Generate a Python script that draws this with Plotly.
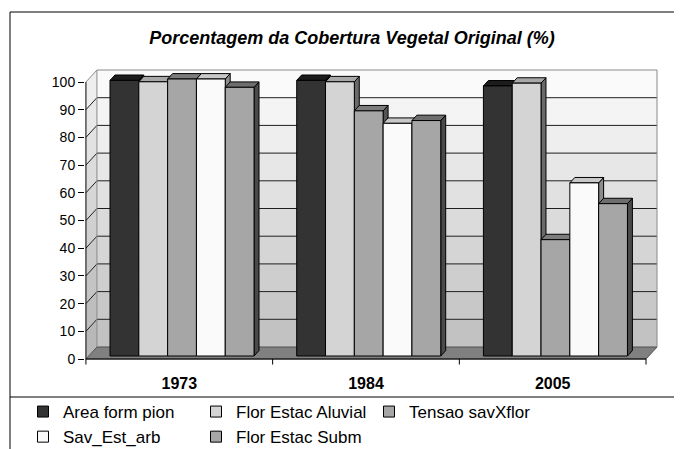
import plotly.graph_objects as go

# ---------------- data ----------------
years = ["1973", "1984", "2005"]
series_names = ["Area form pion", "Flor Estac Aluvial", "Tensao savXflor",
                "Sav_Est_arb", "Flor Estac Subm"]
area_form_pion = [99.5, 99.5, 97.5]
flor_estac_aluvial = [99, 99, 98.5]
tensao_savxflor = [100, 88.5, 42]
sav_est_arb = [100, 84, 62.5]
flor_estac_subm = [97, 85, 55]
y_ticks = [0, 10, 20, 30, 40, 50, 60, 70, 80, 90, 100]
title_text = "Porcentagem da Cobertura Vegetal Original (%)"

series_values = [area_form_pion, flor_estac_aluvial, tensao_savxflor,
                 sav_est_arb, flor_estac_subm]

# ---------------- styles ----------------
front_colors = ["#333333", "#d4d4d4", "#a6a6a6", "#fafafa", "#a6a6a6"]
top_colors = ["#1c1c1c", "#a8a8a8", "#7c7c7c", "#c8c8c8", "#6e6e6e"]
side_colors = ["#222222", "#6a6a6a", "#555555", "#8c8c8c", "#4a4a4a"]
FONT = "Arial, Liberation Sans, sans-serif"

# the page body has an 8px margin: lay out in window pixels, figure shifted
OFF = 8
WIN_W, WIN_H = 682, 449
W, H = WIN_W - OFF, WIN_H - OFF
PLOT_L, PLOT_R, PLOT_T, PLOT_B = 85, 662, 62, 366   # window pixels
ML, MR = PLOT_L - OFF, W - (PLOT_R - OFF)
MT, MB = PLOT_T - OFF, H - (PLOT_B - OFF)
PW, PH = W - ML - MR, H - MT - MB
PX_PER_CAT = 186.7
PX_PER_VAL = 2.77
x_min = -0.505
x_max = x_min + PW / PX_PER_CAT
y_min = -(PLOT_B - 359) / PX_PER_VAL
y_max = y_min + PH / PX_PER_VAL

dx = 11 / PX_PER_CAT      # depth offset (category units)
dy = 12 / PX_PER_VAL      # depth offset (value units)
f0, f1 = 0.25, 0.7        # bar front/back depth fractions
bw = 0.1543               # bar width (category units)
n = len(series_names)
left_edge = -0.5
right_edge = len(years) - 0.5

fig = go.Figure()
shapes = []


def lerp_gray(a, b, t):
    c = int(round(a + (b - a) * t))
    return f"rgb({c},{c},{c})"


# walls (gradient bands)
for k in range(len(y_ticks) - 1):
    v0, v1 = y_ticks[k], y_ticks[k + 1]
    t = k / (len(y_ticks) - 2)
    back_col = lerp_gray(194, 250, t)
    side_col = lerp_gray(184, 238, t)
    shapes.append(dict(type="rect", xref="x", yref="y", layer="below",
                       x0=left_edge + dx, x1=right_edge + dx,
                       y0=v0 + dy, y1=v1 + dy,
                       fillcolor=back_col, line=dict(width=0)))
    path = (f"M {left_edge},{v0} L {left_edge + dx},{v0 + dy} "
            f"L {left_edge + dx},{v1 + dy} L {left_edge},{v1} Z")
    shapes.append(dict(type="path", xref="x", yref="y", layer="below",
                       path=path, fillcolor=side_col, line=dict(width=0)))

# floor
floor_path = (f"M {left_edge},0 L {right_edge},0 L {right_edge + dx},{dy} "
              f"L {left_edge + dx},{dy} Z")
shapes.append(dict(type="path", xref="x", yref="y", layer="below",
                   path=floor_path, fillcolor="#808080",
                   line=dict(color="#505050", width=1)))

# gridlines
for v in y_ticks[1:]:
    col = "#8a8a8a" if v == y_ticks[-1] else "#1e1e1e"
    path = (f"M {left_edge},{v} L {left_edge + dx},{v + dy} "
            f"L {right_edge + dx},{v + dy}")
    shapes.append(dict(type="path", xref="x", yref="y", layer="below",
                       path=path, line=dict(color=col, width=1)))
# back wall edges
shapes.append(dict(type="line", xref="x", yref="y", layer="below",
                   x0=right_edge + dx, x1=right_edge + dx,
                   y0=dy, y1=y_ticks[-1] + dy,
                   line=dict(color="#8a8a8a", width=1)))
shapes.append(dict(type="line", xref="x", yref="y", layer="below",
                   x0=left_edge + dx, x1=left_edge + dx,
                   y0=dy, y1=y_ticks[-1] + dy,
                   line=dict(color="#8a8a8a", width=1)))
# front axis lines
shapes.append(dict(type="line", xref="x", yref="y", layer="above",
                   x0=left_edge, x1=left_edge, y0=0, y1=y_ticks[-1],
                   line=dict(color="black", width=1)))
shapes.append(dict(type="line", xref="x", yref="y", layer="above",
                   x0=left_edge, x1=right_edge, y0=0, y1=0,
                   line=dict(color="black", width=1)))
for b in range(len(years) + 1):
    xb = left_edge + b
    shapes.append(dict(type="line", xref="x", yref="y", layer="above",
                       x0=xb, x1=xb, y0=0, y1=-2,
                       line=dict(color="black", width=1)))

# bars (3D faces), painter order left to right
for g in range(len(years)):
    for i in range(n):
        v = series_values[i][g]
        x0 = g - n / 2 * bw + i * bw
        x1 = x0 + bw
        side_x = [x1 + dx * f0, x1 + dx * f1, x1 + dx * f1, x1 + dx * f0, x1 + dx * f0]
        side_y = [dy * f0, dy * f1, v + dy * f1, v + dy * f0, dy * f0]
        top_x = [x0 + dx * f0, x1 + dx * f0, x1 + dx * f1, x0 + dx * f1, x0 + dx * f0]
        top_y = [v + dy * f0, v + dy * f0, v + dy * f1, v + dy * f1, v + dy * f0]
        fr_x = [x0 + dx * f0, x1 + dx * f0, x1 + dx * f0, x0 + dx * f0, x0 + dx * f0]
        fr_y = [dy * f0, dy * f0, v + dy * f0, v + dy * f0, dy * f0]
        for xs, ys, col in ((side_x, side_y, side_colors[i]),
                            (top_x, top_y, top_colors[i]),
                            (fr_x, fr_y, front_colors[i])):
            fig.add_trace(go.Scatter(
                x=xs, y=ys, mode="lines", fill="toself", fillcolor=col,
                line=dict(color="black", width=1), showlegend=False,
                hoverinfo="skip"))

# legend entries
for i, name in enumerate(series_names):
    fig.add_trace(go.Scatter(
        x=[None], y=[None], mode="markers", name=name,
        marker=dict(symbol="square", size=11, color=front_colors[i],
                    line=dict(color="black", width=1))))


def px2paper_x(px):
    return (px - OFF - ML) / PW


def px2paper_y(py):
    return (PLOT_B - py) / PH


# outer border and legend separator
shapes.append(dict(type="rect", xref="paper", yref="paper", layer="above",
                   x0=px2paper_x(10), x1=px2paper_x(WIN_W + 20),
                   y0=px2paper_y(WIN_H + 20), y1=px2paper_y(12),
                   line=dict(color="black", width=1)))
shapes.append(dict(type="line", xref="paper", yref="paper", layer="above",
                   x0=px2paper_x(10), x1=px2paper_x(WIN_W + 20),
                   y0=px2paper_y(397), y1=px2paper_y(397),
                   line=dict(color="black", width=1)))

fig.update_layout(
    width=W, height=H,
    margin=dict(l=ML, r=MR, t=MT, b=MB, autoexpand=False),
    paper_bgcolor="white", plot_bgcolor="white",
    font=dict(family=FONT, color="black", size=12),
    title=dict(text=f"<b><i>{title_text}</i></b>", x=(352 - OFF) / W,
               xanchor="center", y=1 - (38 - OFF) / H, yanchor="middle",
               yref="container", font=dict(size=18, family=FONT)),
    xaxis=dict(range=[x_min, x_max], tickvals=list(range(len(years))),
               ticktext=[f"<b>{y}</b>" for y in years], ticks="",
               showgrid=False, zeroline=False, showline=False,
               tickfont=dict(size=16, family=FONT), ticklabelstandoff=6,
               fixedrange=True),
    yaxis=dict(range=[y_min, y_max], tickvals=y_ticks, ticks="outside",
               ticklen=6, tickcolor="black", showgrid=False, zeroline=False,
               showline=False, tickfont=dict(size=14, family=FONT),
               fixedrange=True),
    shapes=shapes,
    showlegend=True,
    legend=dict(orientation="h", x=px2paper_x(23), xanchor="left",
                y=px2paper_y(394), yanchor="top", entrywidth=128,
                entrywidthmode="pixels", itemwidth=30,
                font=dict(size=17, family=FONT), tracegroupgap=0,
                bgcolor="rgba(0,0,0,0)"),
)

fig.write_html("out.html")
